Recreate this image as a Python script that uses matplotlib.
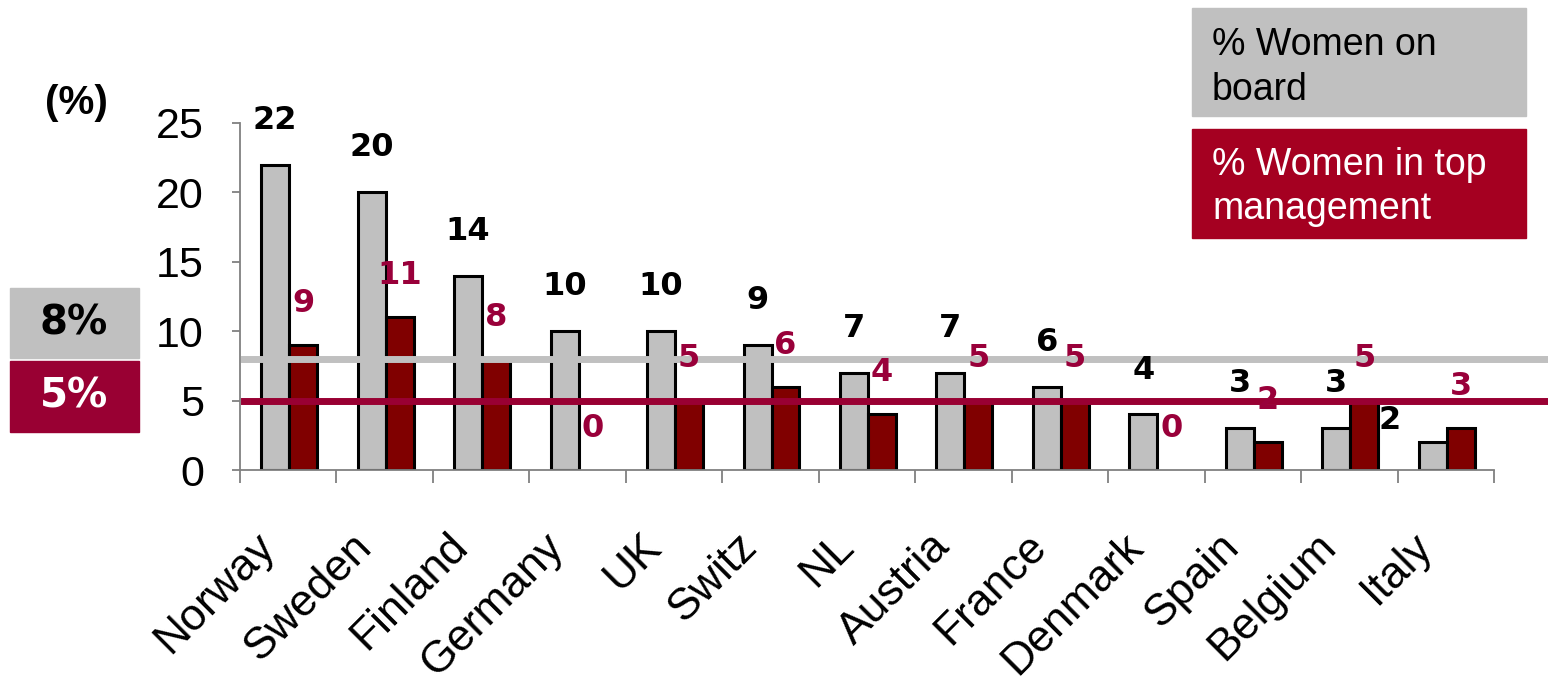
import numpy as np
import matplotlib.pyplot as plt
from matplotlib.patches import Rectangle
from matplotlib.transforms import blended_transform_factory, ScaledTranslation

# women in boards / top management by country (%)
countries = ['Norway', 'Sweden', 'Finland', 'Germany', 'UK', 'Switz', 'NL',
             'Austria', 'France', 'Denmark', 'Spain', 'Belgium', 'Italy']
board = [22, 20, 14, 10, 10, 9, 7, 7, 6, 4, 3, 3, 2]
top_mgmt = [9, 11, 8, 0, 5, 6, 4, 5, 5, 0, 2, 5, 3]
avg_board = 8
avg_mgmt = 5
yticks = [0, 5, 10, 15, 20, 25]

GREY = '#C0C0C0'
MAROON = '#800000'
CRIMSON = '#99003A'
BOX_RED = '#A50021'

W, H = 1548, 681
fig = plt.figure(figsize=(W / 100, H / 100), dpi=100)
ax = fig.add_axes([240 / W, 211 / H, 1254 / W, 347 / H])

x = np.arange(len(countries))
bw = 0.29
ax.bar(x - 0.135, board, bw, color=GREY, edgecolor='black',
       linewidth=[2.2 if v else 0 for v in board], zorder=2)
ax.bar(x + 0.155, top_mgmt, bw, color=MAROON, edgecolor='black',
       linewidth=[2.2 if v else 0 for v in top_mgmt], zorder=2)

# average lines run from the axis out past the right edge
trans = blended_transform_factory(ax.transAxes, ax.transData)
ax.plot([0.003, 1.05], [avg_board, avg_board], color=GREY, lw=5,
        transform=trans, clip_on=False, zorder=3)
ax.plot([0.003, 1.05], [avg_mgmt, avg_mgmt], color='#990033', lw=5,
        transform=trans, clip_on=False, zorder=3)

# value labels
board_off = [(0, 32)] * len(board)
board_off[-1] = (-31, 16)   # Italy label sits off to the left
for i, v in enumerate(board):
    ax.annotate(str(v), (i - 0.135, v), xytext=board_off[i],
                textcoords='offset points', ha='center', va='center',
                fontsize=23, fontweight='bold', family='DejaVu Sans',
                color='black', zorder=4)
for i, v in enumerate(top_mgmt):
    ax.annotate(str(v), (i + 0.155, v), xytext=(0, 30),
                textcoords='offset points', ha='center', va='center',
                fontsize=23, fontweight='bold', family='DejaVu Sans',
                color=CRIMSON, zorder=4)

ax.set_xlim(-0.5, len(countries) - 0.5)
ax.set_ylim(0, 25)
for s in ['top', 'right']:
    ax.spines[s].set_visible(False)
for s in ['left', 'bottom']:
    ax.spines[s].set_color('#808080')
    ax.spines[s].set_linewidth(1.3)

ax.set_yticks(yticks)
ax.set_yticklabels([str(t) for t in yticks], family='Liberation Sans',
                   fontsize=31)
ax.tick_params(axis='y', direction='out', length=6, width=1.3,
               color='#808080', pad=20)

ax.set_xticks(x)
ax.set_xticklabels(countries, rotation=45, ha='right',
                   rotation_mode='anchor', family='Liberation Sans',
                   fontsize=32)
ax.set_xticks(np.arange(-0.5, len(countries)), minor=True)
ax.tick_params(axis='x', which='major', length=0, pad=22)
ax.tick_params(axis='x', which='minor', direction='out', length=9,
               width=1.3, color='#808080')
shift = ScaledTranslation(-34 / 100, -25 / 100, fig.dpi_scale_trans)
for lab in ax.get_xticklabels():
    lab.set_transform(lab.get_transform() + shift)

fig.text(45 / W, 1 - 103 / H, '(%)', fontsize=29, fontweight='bold',
         family='Liberation Sans', va='center', ha='left')

# average value boxes on the left
fig.patches.append(Rectangle((10 / W, 1 - 358 / H), 129 / W, 70 / H,
                             transform=fig.transFigure, color=GREY))
fig.patches.append(Rectangle((10 / W, 1 - 432 / H), 129 / W, 71 / H,
                             transform=fig.transFigure, color='#990033'))
fig.text(74 / W, 1 - 324 / H, '8%', fontsize=29, fontweight='bold',
         family='DejaVu Sans', ha='center', va='center', color='black')
fig.text(74 / W, 1 - 397 / H, '5%', fontsize=29, fontweight='bold',
         family='DejaVu Sans', ha='center', va='center', color='white')

# legend boxes
fig.patches.append(Rectangle((1192 / W, 1 - 116 / H), 334 / W, 108 / H,
                             transform=fig.transFigure, color=GREY))
fig.patches.append(Rectangle((1192 / W, 1 - 238 / H), 334 / W, 109 / H,
                             transform=fig.transFigure, color=BOX_RED))
for txt, yb, col in [('% Women on', 55, 'black'), ('board', 100, 'black'),
                     ('% Women in top', 175, 'white'),
                     ('management', 219, 'white')]:
    fig.text(1212 / W, 1 - yb / H, txt, fontsize=27, family='Liberation Sans',
             va='baseline', ha='left', color=col)

# source line sits at the very bottom edge
fig.text(5 / W, -31 / H, 'Source: EPWN 2007', fontsize=31,
         family='Liberation Sans', va='baseline', ha='left')

fig.savefig('out.png', dpi=100)
